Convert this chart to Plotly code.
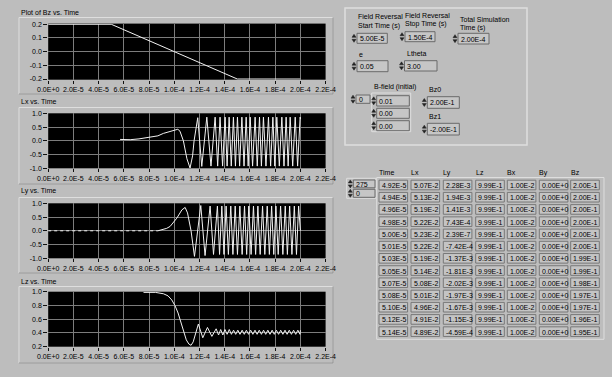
import plotly.graph_objects as go

W, H = 612, 377

# ---------------- data ----------------
x_tick_vals = [0, 20, 40, 60, 80, 100, 120, 140, 160, 180, 200, 220]  # microseconds
x_tick_labels = ["0.0E+0", "2.0E-5", "4.0E-5", "6.0E-5", "8.0E-5", "1.0E-4",
                 "1.2E-4", "1.4E-4", "1.6E-4", "1.8E-4", "2.0E-4", "2.2E-4"]

bz_t = [0, 50, 150, 200]
bz_v = [0.2, 0.2, -0.2, -0.2]

lx_t = [57, 65, 72, 81, 87, 91.4, 96, 100.6, 102.8, 104.5, 107.2, 110, 112.5, 114.5, 115.7,
        118.6, 121.8, 125.8, 129.1, 132.4, 134.4, 136.3, 138.3, 140.3, 141.9, 143.5, 145.2,
        146.9, 148.5, 150.1, 151.8, 153.6, 155.3, 157.0, 158.6, 160.2, 162.1, 164.1, 165.8,
        167.6, 169.1, 170.7, 172.7, 174.7, 176.4, 178.2, 179.7, 181.3, 183.3, 185.3, 187.0,
        188.7, 190.3, 191.9, 193.9, 195.9, 197.8, 199.8, 200.0]
lx_v = [0.05, 0.04, 0.07, 0.12, 0.18, 0.27, 0.34, 0.40, 0.42, 0.35, 0.0, -0.65, -0.99, -0.55, 0.0,
        0.84, -0.93, 0.86, -0.92, 0.86, -0.92, 0.86, -0.92, 0.86, -0.92, 0.86, -0.92,
        0.86, -0.92, 0.86, -0.92, 0.86, -0.92, 0.86, -0.92, 0.86, -0.92, 0.86, -0.92,
        0.86, -0.92, 0.86, -0.92, 0.86, -0.92, 0.86, -0.92, 0.86, -0.92, 0.86, -0.92,
        0.86, -0.92, 0.86, -0.92, 0.86, -0.92, 0.86, 0.80]

ly_flat_t = [0, 87]
ly_flat_v = [0.0, 0.0]
ly_t = [87, 91.4, 94, 96.7, 99, 102, 106, 108.6, 110.5, 113.3, 116.0,
        121.0, 124.4, 128.4, 131.1, 134.2, 135.9, 137.7, 139.4, 141.1, 142.9, 144.8, 146.5,
        148.3, 150.1, 152.0, 153.8, 155.7, 157.4, 159.1, 160.9, 162.8, 164.5, 166.3, 168.1,
        170.0, 171.8, 173.7, 175.4, 177.2, 178.9, 180.6, 182.4, 184.3, 186.1, 188.0, 189.7,
        191.5, 193.3, 195.2, 196.9, 198.6, 200.0]
ly_v = [0.0, 0.04, 0.09, 0.16, 0.28, 0.46, 0.76, 0.85, 0.65, 0.0, -0.93,
        0.92, -0.90, 0.90, -0.86, 0.90, -0.86, 0.90, -0.86, 0.90, -0.86, 0.90, -0.86,
        0.90, -0.86, 0.90, -0.86, 0.90, -0.86, 0.90, -0.86, 0.90, -0.86, 0.90, -0.86,
        0.90, -0.86, 0.90, -0.86, 0.90, -0.86, 0.90, -0.86, 0.90, -0.86, 0.90, -0.86,
        0.90, -0.86, 0.90, -0.86, 0.90, 0.0]

lz_t = [75.6, 85, 91.4, 95, 98, 100.5, 103, 105, 107.2, 109.5, 111.5, 113.3, 115, 116.5,
        119.1, 122.6, 126.3, 129.8, 133.2, 135.1, 136.8, 138.5, 140.2, 141.9, 143.6, 145.3,
        147.0, 148.7, 150.4, 152.1, 153.8, 155.5, 157.2, 158.9, 160.6, 162.3, 164.0, 165.7,
        167.4, 169.1, 170.8, 172.5, 174.2, 175.9, 177.6, 179.3, 181.0, 182.7, 184.4, 186.1,
        187.8, 189.5, 191.2, 192.9, 194.6, 196.3, 198.0, 199.7, 200.0]
lz_v = [0.99, 0.99, 0.97, 0.94, 0.88, 0.80, 0.69, 0.57, 0.42, 0.30, 0.24, 0.22, 0.27, 0.37,
        0.53, 0.33, 0.48, 0.35, 0.46, 0.37, 0.45, 0.37, 0.45, 0.38, 0.45, 0.38,
        0.44, 0.38, 0.44, 0.38, 0.44, 0.38, 0.44, 0.38, 0.44, 0.38, 0.44, 0.38,
        0.44, 0.38, 0.44, 0.38, 0.44, 0.38, 0.44, 0.38, 0.44, 0.38, 0.44, 0.38,
        0.44, 0.38, 0.44, 0.38, 0.44, 0.38, 0.44, 0.38, 0.44]

plot_titles = ["Plot of Bz vs. Time", "Lx vs. Time", "Ly vs. Time", "Lz vs. Time"]
bz_ticks = [0.2, 0.1, 0.0, -0.1, -0.2]
bz_tick_labels = ["0.2", "0.1", "0.0", "-0.1", "-0.2"]
l_ticks = [1.0, 0.5, 0.0, -0.5, -1.0]
l_tick_labels = ["1.0", "0.5", "0.0", "-0.5", "-1.0"]
lz_ticks = [1.0, 0.8, 0.6, 0.4, 0.2]
lz_tick_labels = ["1.0", "0.8", "0.6", "0.4", "0.2"]

table_headers = ["Time", "Lx", "Ly", "Lz", "Bx", "By", "Bz"]
tab_time = ["4.92E-5", "4.94E-5", "4.96E-5", "4.98E-5", "5.00E-5", "5.01E-5", "5.03E-5",
            "5.05E-5", "5.07E-5", "5.08E-5", "5.10E-5", "5.12E-5", "5.14E-5"]
tab_lx = ["5.07E-2", "5.13E-2", "5.19E-2", "5.22E-2", "5.23E-2", "5.22E-2", "5.19E-2",
          "5.14E-2", "5.08E-2", "5.01E-2", "4.96E-2", "4.91E-2", "4.89E-2"]
tab_ly = ["2.28E-3", "1.94E-3", "1.41E-3", "7.43E-4", "2.39E-7", "-7.42E-4", "-1.37E-3",
          "-1.81E-3", "-2.02E-3", "-1.97E-3", "-1.67E-3", "-1.15E-3", "-4.59E-4"]
tab_lz = ["9.99E-1"] * 13
tab_bx = ["1.00E-2"] * 13
tab_by = ["0.00E+0"] * 13
tab_bz = ["2.00E-1", "2.00E-1", "2.00E-1", "2.00E-1", "2.00E-1", "2.00E-1", "1.99E-1",
          "1.99E-1", "1.98E-1", "1.97E-1", "1.97E-1", "1.96E-1", "1.95E-1"]

# ---------------- helpers ----------------
def X(px):
    return px / W

def Y(py):
    return 1 - py / H

BG = "#bdbdbd"
FONT = "Liberation Sans, Arial, sans-serif"
shapes = []
annots = []

def text(px, py, s, size=7, anchor="left"):
    annots.append(dict(x=X(px), y=Y(py), xref="paper", yref="paper", text=s,
                       showarrow=False, xanchor=anchor, yanchor="middle",
                       font=dict(family=FONT, size=size, color="#000"), borderpad=0))

def rect(x0, y0, x1, y1, line="#6a6a6a", fill=None, width=1):
    shapes.append(dict(type="rect", xref="paper", yref="paper",
                       x0=X(x0), y0=Y(y1), x1=X(x1), y1=Y(y0),
                       line=dict(color=line, width=width),
                       fillcolor=fill if fill else "rgba(0,0,0,0)", layer="below"))

def spinner(cx, cy):
    for d in (1, -1):
        ya, yb = cy - d * 1, cy - d * 4
        path = "M {} {} L {} {} L {} {} Z".format(X(cx - 2), Y(ya), X(cx + 2), Y(ya), X(cx), Y(yb))
        shapes.append(dict(type="path", xref="paper", yref="paper", path=path,
                           fillcolor="#222", line=dict(color="#222", width=0.5), layer="below"))

def numbox(x0, y0, x1, y1, s):
    rect(x0, y0, x1, y1, line="#6a6a6a", fill="#c6c6c6")
    spinner(x0 - 3, (y0 + y1) / 2)
    text(x0 + 1.5, (y0 + y1) / 2 + 0.5, s)

# ---------------- figure ----------------
fig = go.Figure()
panels = [
    (12.3, 17.5, 94, 23.6, 79.7, [-0.205, 0.205], bz_ticks, bz_tick_labels),
    (101, 107.5, 184, 113.3, 168.3, [-1.0, 1.0], l_ticks, l_tick_labels),
    (191, 197.5, 273, 203.3, 258.3, [-1.0, 1.0], l_ticks, l_tick_labels),
    (281, 286.5, 363, 291.7, 346.7, [0.2, 1.0], lz_ticks, lz_tick_labels),
]
series = [
    [(bz_t, bz_v, "solid")],
    [(lx_t, lx_v, "solid")],
    [(ly_flat_t, ly_flat_v, "dot"), (ly_t, ly_v, "solid")],
    [(lz_t, lz_v, "solid")],
]

for i, (ty, ft, fb, pt, pb, yr, tv, tl) in enumerate(panels):
    n = "" if i == 0 else str(i + 1)
    ax = dict(domain=[X(48.2), X(325.6)], range=[0, 220], tickmode="array",
              tickvals=x_tick_vals, ticktext=x_tick_labels, tickangle=0,
              showgrid=True, gridcolor="#7c7c7c", gridwidth=1, zeroline=False,
              showline=False, ticks="outside", ticklen=3, tickcolor="#111",
              tickfont=dict(family=FONT, size=7, color="#000"), anchor="y" + n,
              fixedrange=True, automargin=False)
    ay = dict(domain=[Y(pb), Y(pt)], range=yr, tickmode="array", tickvals=tv, ticktext=tl,
              showgrid=True, gridcolor="#7c7c7c", gridwidth=1, zeroline=False,
              showline=False, ticks="outside", ticklen=4, tickcolor="#111",
              tickfont=dict(family=FONT, size=7, color="#000"), anchor="x" + n,
              fixedrange=True, automargin=False)
    fig.update_layout(**{"xaxis" + n: ax, "yaxis" + n: ay})
    for (t, v, dash) in series[i]:
        fig.add_trace(go.Scatter(x=t, y=v, mode="lines", xaxis="x" + n, yaxis="y" + n,
                                 line=dict(color="#f2f2f2", width=1, dash=dash),
                                 showlegend=False, hoverinfo="skip"))
    text(20, ty, plot_titles[i])
    rect(19, ft, 333, fb, line="#dedede", width=1)
    shapes.append(dict(type="path", xref="paper", yref="paper",
                       path="M {} {} L {} {} L {} {}".format(X(19), Y(fb), X(333), Y(fb), X(333), Y(ft)),
                       line=dict(color="#8c8c8c", width=1), layer="below"))

# ---- control panel box ----
rect(345, 8, 527, 145, line="#dedede", width=1.5)
text(357, 16.7, "Field Reversal")
text(357, 25.7, "Start Time (s)")
text(404, 15.7, "Field Reversal")
text(404, 24.3, "Stop Time (s)")
text(459, 19, "Total Simulation")
text(459, 27.7, "Time (s)")
numbox(357, 33.3, 387.3, 43.3, "5.00E-5")
numbox(405, 31.7, 435, 41.7, "1.50E-4")
numbox(458, 33.3, 489, 44, "2.00E-4")
text(358, 54, "e")
numbox(357, 60.7, 388, 71.7, "0.05")
text(406, 53.3, "Ltheta")
numbox(404.5, 60.7, 437, 71, "3.00")
text(372.7, 87.3, "B-field (initial)")
numbox(356, 95, 370, 103.3, "0")
rect(371.7, 93, 410.7, 131.7, line="#dedede")
numbox(376.7, 95.7, 409.3, 106, "0.01")
numbox(376.7, 108.3, 409.3, 118.3, "0.00")
numbox(376.7, 120.7, 409.3, 130.7, "0.00")
text(428.3, 89.3, "Bz0")
numbox(427.3, 96.7, 459.3, 108.3, "2.00E-1")
text(428.3, 116.7, "Bz1")
numbox(427.3, 123.3, 459.3, 135, "-2.00E-1")

# ---- table ----
rect(346.7, 178.3, 376, 198.3, line="#dedede")
numbox(353.3, 180, 375, 187.8, "275")
numbox(353.3, 189.3, 375, 197.3, "0")
col_x = [379, 411, 443.3, 475.7, 507.3, 539.3, 570.7]
cols = [tab_time, tab_lx, tab_ly, tab_lz, tab_bx, tab_by, tab_bz]
rect(376.7, 177.5, 604, 339.3, line="#dedede", width=1)
for c, hname in enumerate(table_headers):
    text(col_x[c] - 1, 172.7, hname)
for r in range(len(tab_time)):
    cy = 185 + r * 12.22
    for c in range(7):
        rect(col_x[c], cy - 4.8, col_x[c] + 28.6, cy + 4.8, line="#777777", fill="#c4c4c4")
        text(col_x[c] + 1.5, cy + 0.5, cols[c][r])

fig.update_layout(width=W, height=H, margin=dict(l=0, r=0, t=0, b=0, pad=0),
                  paper_bgcolor=BG, plot_bgcolor="#000000", autosize=False,
                  shapes=shapes, annotations=annots, showlegend=False,
                  font=dict(family=FONT, size=7))

fig.write_html("out.html", config={"displayModeBar": False},
               post_script="document.body.style.margin='0';document.body.style.background='" + BG + "';")
